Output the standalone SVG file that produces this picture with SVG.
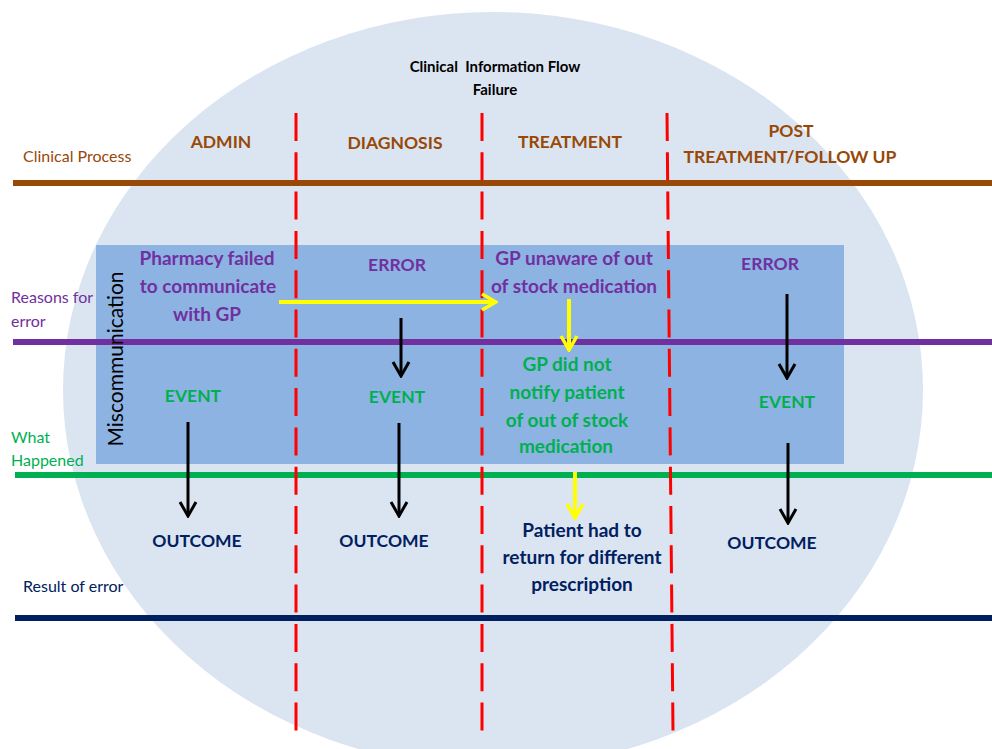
<svg xmlns="http://www.w3.org/2000/svg" width="992" height="749" viewBox="0 0 992 749">
  <defs>
    <style>
      text { font-family: Lato, "Open Sans", "Liberation Sans", sans-serif; }
      .title { font-size: 15px; font-weight: bold; fill: #000; white-space: pre; }
      .phase { font-size: 17.5px; font-weight: bold; fill: #984807; text-anchor: middle; }
      .side { font-size: 16px; }
      .brown { fill: #984807; }
      .purple { fill: #7030A0; }
      .green { fill: #00B050; }
      .navy { fill: #002060; }
      .lbl { font-size: 19px; font-weight: bold; text-anchor: middle; }
      .caps { font-size: 17.5px; }
      .sep { stroke: #FF0000; stroke-width: 3; stroke-dasharray: 28 11.3; fill: none; }
      .band { stroke-width: 6; fill: none; }
      .arr-k { stroke: #000; stroke-width: 3; fill: none; }
      .arr-y { stroke: #FFFF00; stroke-width: 4; fill: none; }
    </style>
    <marker id="head-k" markerUnits="userSpaceOnUse" viewBox="-16 -10 18 20" refX="0" refY="0" markerWidth="18" markerHeight="20" orient="auto">
      <path d="M-14,-8 L0,0 L-14,8" fill="none" stroke="#000" stroke-width="3"/>
    </marker>
    <marker id="head-y" markerUnits="userSpaceOnUse" viewBox="-16 -10 18 20" refX="0" refY="0" markerWidth="18" markerHeight="20" orient="auto">
      <path d="M-14,-8 L0,0 L-14,8" fill="none" stroke="#FFFF00" stroke-width="3.5"/>
    </marker>
  </defs>

  <!-- background -->
  <rect width="992" height="749" fill="#FFFFFF"/>
  <ellipse id="scope" cx="493" cy="390" rx="430" ry="378" fill="#DBE5F1"/>
  <rect id="error-zone" x="96" y="245" width="748" height="219" fill="#8DB3E2"/>

  <!-- swimlane boundaries -->
  <g id="bands">
    <line class="band" x1="13" y1="183" x2="992" y2="183" stroke="#984807"/>
    <line class="band" x1="13" y1="342" x2="992" y2="342" stroke="#7030A0"/>
    <line class="band" x1="15" y1="475" x2="992" y2="475" stroke="#00B050"/>
    <line class="band" x1="15" y1="618" x2="992" y2="618" stroke="#002060" stroke-width="5"/>
  </g>

  <!-- phase separators -->
  <g id="separators">
    <line class="sep" x1="296" y1="113" x2="296" y2="731"/>
    <line class="sep" x1="482" y1="113" x2="482" y2="731"/>
    <line class="sep" x1="667" y1="113" x2="673" y2="731"/>
  </g>

  <g id="title">
    <text class="title" x="495" y="72" text-anchor="middle" xml:space="preserve">Clinical  Information Flow</text>
    <text class="title" x="495" y="95" text-anchor="middle">Failure</text>
  </g>

  <!-- row labels -->
  <g id="row-clinical-process"><text class="side brown" x="23" y="162">Clinical Process</text></g>
  <g id="row-reasons"><text class="side purple" x="11" y="303">Reasons for</text><text class="side purple" x="11" y="327">error</text></g>
  <g id="row-what-happened"><text class="side green" x="11" y="443">What</text><text class="side green" x="11" y="466">Happened</text></g>
  <g id="row-result"><text class="side navy" x="23" y="592">Result of error</text></g>

  <!-- phase headers -->
  <g id="phase-admin"><text class="phase" x="221" y="148">ADMIN</text></g>
  <g id="phase-diagnosis"><text class="phase" x="395" y="149">DIAGNOSIS</text></g>
  <g id="phase-treatment"><text class="phase" x="570" y="148">TREATMENT</text></g>
  <g id="phase-post"><text class="phase" x="791" y="137">POST</text><text class="phase" x="790" y="163">TREATMENT/FOLLOW UP</text></g>

  <g id="miscommunication"><text transform="translate(123,359) rotate(-90)" text-anchor="middle" font-size="21" fill="#000">Miscommunication</text></g>

  <!-- admin column -->
  <g id="admin-reason">
    <text class="lbl purple" x="207" y="265">Pharmacy failed</text>
    <text class="lbl purple" x="208" y="293">to communicate</text>
    <text class="lbl purple" x="207" y="321">with GP</text>
  </g>
  <g id="admin-event"><text class="lbl caps green" x="193" y="402">EVENT</text></g>
  <g id="admin-outcome"><text class="lbl caps navy" x="197" y="547">OUTCOME</text></g>

  <!-- diagnosis column -->
  <g id="diagnosis-error"><text class="lbl caps purple" x="397" y="271">ERROR</text></g>
  <g id="diagnosis-event"><text class="lbl caps green" x="397" y="403">EVENT</text></g>
  <g id="diagnosis-outcome"><text class="lbl caps navy" x="384" y="547">OUTCOME</text></g>

  <!-- treatment column -->
  <g id="treatment-reason">
    <text class="lbl purple" x="574" y="265">GP unaware of out</text>
    <text class="lbl purple" x="574" y="293">of stock medication</text>
  </g>
  <g id="treatment-event">
    <text class="lbl green" x="567" y="371">GP did not</text>
    <text class="lbl green" x="567" y="399">notify patient</text>
    <text class="lbl green" x="567" y="427">of out of stock</text>
    <text class="lbl green" x="566" y="453">medication</text>
  </g>
  <g id="treatment-outcome">
    <text class="lbl navy" x="582" y="537">Patient had to</text>
    <text class="lbl navy" x="582" y="564">return for different</text>
    <text class="lbl navy" x="582" y="591">prescription</text>
  </g>

  <!-- post treatment column -->
  <g id="post-error"><text class="lbl caps purple" x="770" y="270">ERROR</text></g>
  <g id="post-event"><text class="lbl caps green" x="787" y="408">EVENT</text></g>
  <g id="post-outcome"><text class="lbl caps navy" x="772" y="549">OUTCOME</text></g>

  <!-- connectors -->
  <g id="connectors">
    <line class="arr-y" x1="279" y1="302" x2="496" y2="302" marker-end="url(#head-y)"/>
    <line class="arr-y" x1="569" y1="299" x2="569" y2="350" marker-end="url(#head-y)"/>
    <line class="arr-y" x1="575" y1="472" x2="575" y2="518" marker-end="url(#head-y)"/>
    <line class="arr-k" x1="188" y1="422" x2="188" y2="516" marker-end="url(#head-k)"/>
    <line class="arr-k" x1="401" y1="318" x2="401" y2="376" marker-end="url(#head-k)"/>
    <line class="arr-k" x1="399" y1="423" x2="399" y2="516" marker-end="url(#head-k)"/>
    <line class="arr-k" x1="787" y1="294" x2="787" y2="378" marker-end="url(#head-k)"/>
    <line class="arr-k" x1="788" y1="443" x2="788" y2="523" marker-end="url(#head-k)"/>
  </g>
</svg>
